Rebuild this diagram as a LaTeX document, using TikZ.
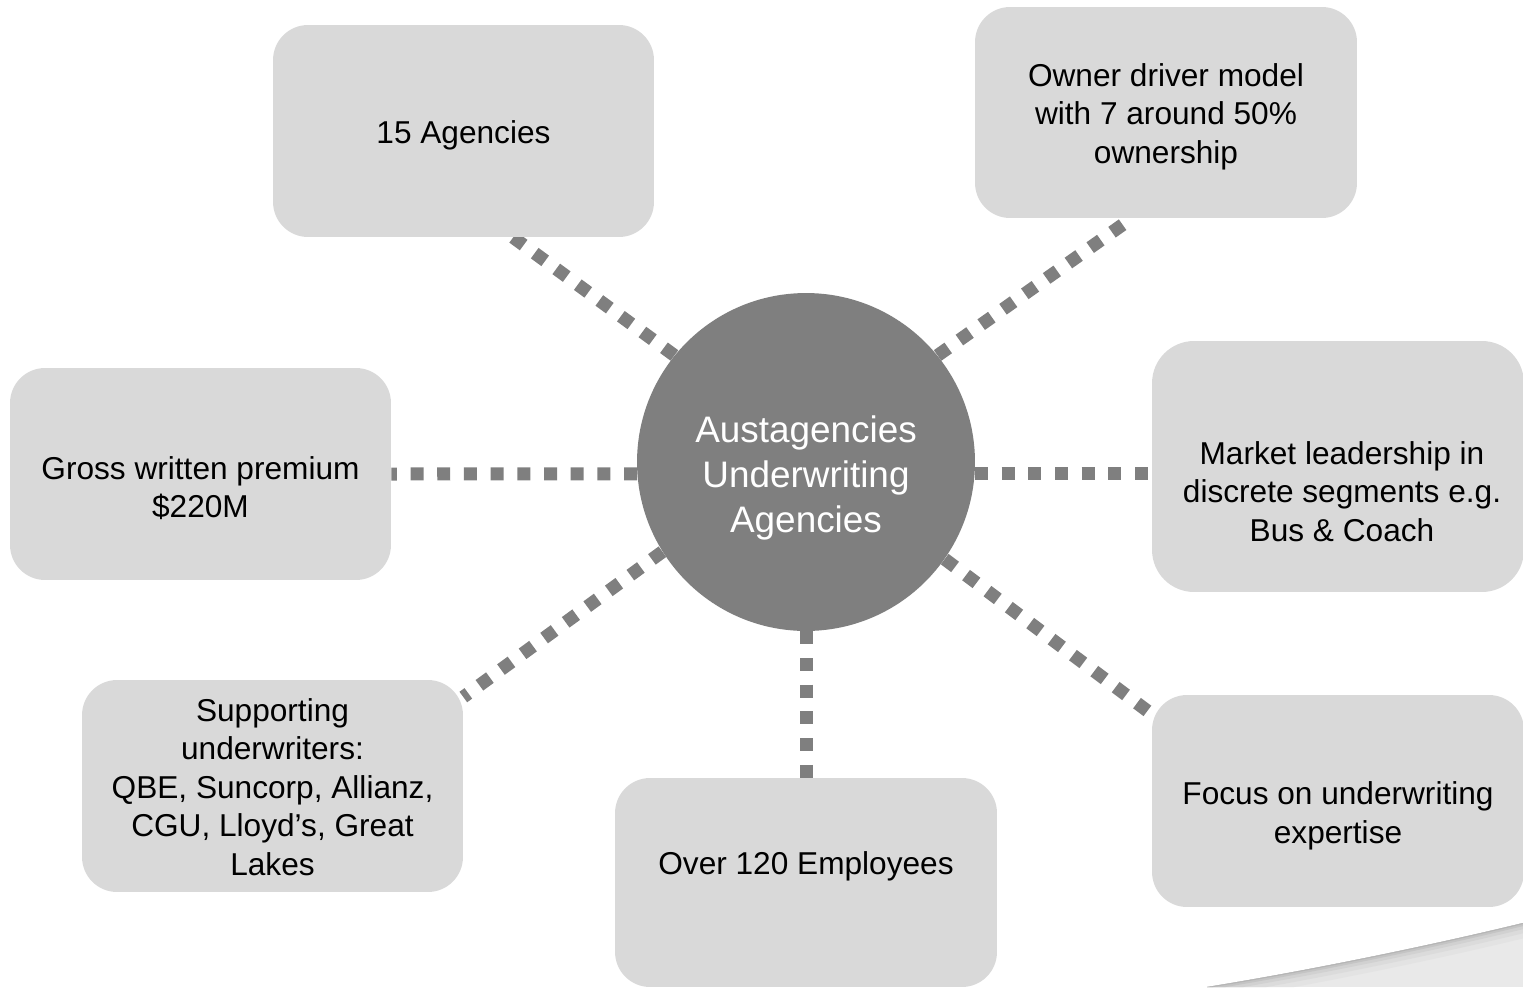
\documentclass[tikz,border=0pt]{standalone}
\usepackage{fontspec}
\setmainfont{Liberation Sans}
\usetikzlibrary{positioning,calc}
\pgfdeclarelayer{background}
\pgfsetlayers{background,main}
\definecolor{boxgray}{HTML}{D9D9D9}
\definecolor{hubgray}{HTML}{7F7F7F}
\definecolor{swooshgray}{HTML}{E9E9E9}

\begin{document}
\begin{tikzpicture}[x=0.02cm,y=-0.02cm,
	box/.style={rectangle,fill=boxgray,rounded corners=0.7cm,
		minimum width=7.62cm,minimum height=4.24cm,inner sep=0pt},
	hub/.style={circle,fill=hubgray,minimum size=6.76cm,inner sep=0pt},
	txt/.style={align=center,font=\fontsize{18}{21.9}\selectfont},
	hubtxt/.style={align=center,text=white,font=\fontsize{21}{25.6}\selectfont},
	link/.style={draw=hubgray,line width=0.26cm,dash pattern=on 0.26cm off 0.274cm}]
	\useasboundingbox (0,0) rectangle (1523,987);

	\node[box] (agen) at (463.5,131) {};
	\node[box,minimum width=7.64cm,minimum height=4.22cm] (owner) at (1166,112.5) {};
	\node[box] (gross) at (200.5,474) {};
	\node[box,minimum width=7.44cm,minimum height=5.02cm,rounded corners=0.84cm] (mkt) at (1338,466.5) {};
	\node[box] (supp) at (272.5,786) {};
	\node[box,minimum width=7.64cm,minimum height=4.18cm] (emp) at (806,882.5) {};
	\node[box,minimum width=7.44cm] (focus) at (1338,801) {};
	\node[hub] (hub) at (806,462) {};

	\node[txt] (agentxt) at ([yshift=-0.08cm]agen.center) {15 Agencies};
	\node[txt] (ownertxt) at ([yshift=-0.08cm]owner.center) {Owner driver model\\with 7 around 50\%\\ownership};
	\node[txt] (grosstxt) at ([yshift=-0.28cm]gross.center) {Gross written premium\\\$220M};
	\node[txt] (mkttxt) at ([xshift=0.08cm,yshift=-0.5cm]mkt.center) {Market leadership in\\discrete segments e.g.\\Bus \& Coach};
	\node[txt] (supptxt) at ([yshift=-0.02cm]supp.center) {Supporting\\underwriters:\\QBE, Suncorp, Allianz,\\CGU, Lloyd’s, Great\\Lakes};
	\node[txt] (emptxt) at ([yshift=0.32cm]emp.center) {Over 120 Employees};
	\node[txt] (focustxt) at ([yshift=-0.3cm]focus.center) {Focus on underwriting\\expertise};
	\node[hubtxt] (hubtxt) at ([yshift=-0.32cm]hub.center) {Austagencies\\Underwriting\\Agencies};

	\begin{pgfonlayer}{background}
		\begin{scope}
			\clip (1207,987) .. controls (1300,972) and (1420,948) .. (1523,923) -- (1523,987) -- cycle;
			\fill[swooshgray] (1150,900) rectangle (1523,987);
			\foreach \w/\k in {30/11,20/14,12/18,6/23,2/29}
				\draw[black!\k,line width=\w*0.02cm] (1207,987) .. controls (1300,972) and (1420,948) .. (1523,923);
		\end{scope}

		\draw[link] (hub.141) -- (agen.-65);
		\draw[link] (hub.39) -- (owner.252);
		\draw[link] (hub.184) -- (gross.east);
		\draw[link] (hub.-4) -- (mkt.west |- hub.-4);
		\draw[link] (hub.212) -- (supp.25.5);
		\draw[link] (hub.south) -- (emp.north);
		\draw[link] (hub.-35) -- (focus.155);
	\end{pgfonlayer}
\end{tikzpicture}
\end{document}
